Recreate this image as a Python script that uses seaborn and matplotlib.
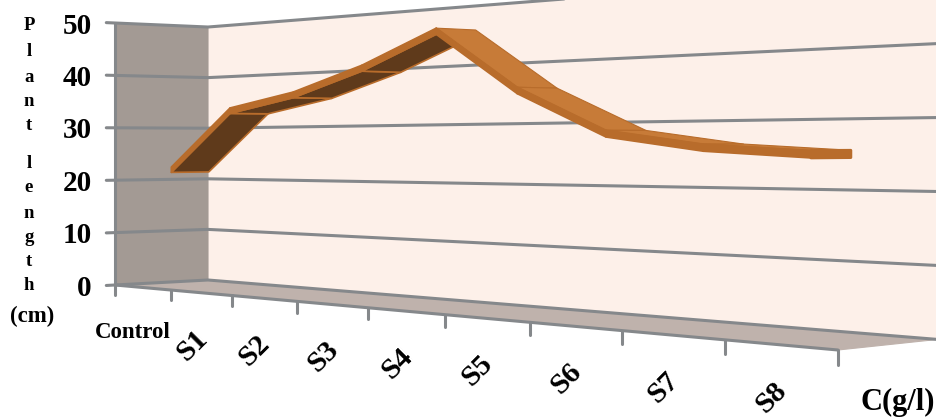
import numpy as np
import pandas as pd
import matplotlib
matplotlib.use("Agg")
import matplotlib.pyplot as plt
import seaborn as sns

categories = ["Control", "S1", "S2", "S3", "S4", "S5", "S6", "S7", "S8"]
plant_length = [22.5, 33.4, 35.9, 40.0, 45.4, 35.4, 28.6, 26.5, 25.6]
y_ticks = [0, 10, 20, 30, 40, 50]
y_letters = ["P", "l", "a", "n", "t", "l", "e", "n", "g", "t", "h"]
letter_rows = [24, 49, 75, 100, 124, 161, 186, 211, 236, 259, 283]

wall_color = "#FDF0E9"
side_color = "#A39A94"
floor_color = "#BFB2AC"
grid_color = "#85888B"
top_color = "#C77B38"
band_color = "#B86C2B"
under_color = "#5F3A1B"

sns.set_theme(style="white")
plt.rcParams["font.family"] = ["Liberation Serif", "DejaVu Serif"]


# perspective of the excel 3d chart: u = category axis, v = value, d = depth (0 front, 1 back)
def project(u, v, d):
    u, v, d = np.asarray(u, float), np.asarray(v, float), np.asarray(d, float)
    w = 1 - 0.03635 * u + 0.0356 * d
    px = (115 + 49.87 * u + 100.4 * d) / w
    py = (285 - 5.5 * u + 4.97 * d - 5.24 * v) / w
    return px, py


def face(ax, u, v, d, color, edge=None, lw=0.8, zorder=3):
    px, py = project(u, v, d)
    ax.fill(px, py, facecolor=color, edgecolor=edge if edge else color, lw=lw, zorder=zorder,
            joinstyle="round")


def line_frame(rows):
    frame = []
    for key, (u, v, d) in enumerate(rows):
        px, py = project(u, v, d)
        frame.append(pd.DataFrame({"key": key, "px": px, "py": py}))
    return pd.concat(frame, ignore_index=True)


fig = plt.figure(figsize=(9.36, 4.18), dpi=100)
ax = fig.add_axes([0, 0, 1, 1])

n = len(categories)
top = y_ticks[-1]

# walls and floor
face(ax, [0, n, n, 0], [0, 0, top, top], [1, 1, 1, 1], wall_color, zorder=1)
face(ax, [0, 0, 0, 0], [0, 0, top, top], [0, 1, 1, 0], side_color, zorder=1)
face(ax, [0, n, n, 0], [0, 0, 0, 0], [0, 0, 1, 1], floor_color, zorder=1)

# gridlines, they run along the side wall and then the back wall
grid_rows = [([0, 0, n], [t, t, t], [-0.09, 1, 1]) for t in y_ticks]
grid_df = line_frame(grid_rows)
sns.lineplot(data=grid_df, x="px", y="py", units="key", estimator=None, sort=False,
             color=grid_color, lw=2.2, ax=ax, zorder=2, legend=False)

# axis lines and tick marks
edge_rows = [([0, n], [0, 0], [0, 0]), ([0, 0], [0, top], [0, 0])]
edge_rows += [([i, i], [0, -1.9], [0, 0]) for i in range(n + 1)]
edge_df = line_frame(edge_rows)
sns.lineplot(data=edge_df, x="px", y="py", units="key", estimator=None, sort=False,
             color=grid_color, lw=2.2, ax=ax, zorder=2, legend=False)

# ribbon
d0, d1 = 0.3, 0.7
thick = 1.0
for i in range(n - 1):
    u0, u1 = i + 0.5, i + 1.5
    v0, v1 = plant_length[i], plant_length[i + 1]
    if v1 > v0:
        face(ax, [u0, u0, u1, u1], [v0 - thick, v0 - thick, v1 - thick, v1 - thick],
             [d0, d1, d1, d0], under_color, band_color, 1.2)
    else:
        face(ax, [u0, u0, u1, u1], [v0, v0, v1, v1], [d0, d1, d1, d0], top_color, band_color, 0.8)
    face(ax, [u0, u1, u1, u0], [v0, v1, v1 - thick, v0 - thick], [d0, d0, d0, d0], band_color, lw=1.2)

# end of the ribbon, seen from the right
u_end = n - 0.5
v_end = plant_length[-1]
face(ax, [u_end] * 4, [v_end, v_end, v_end - thick, v_end - thick], [d0, d1, d1, d0], band_color, lw=2.0)

# text
for t in y_ticks:
    px, py = project(0, t, 0)
    ax.text(92, py + 3, str(t), ha="right", va="center", fontsize=21, fontweight="bold", color="black")

for letter, row in zip(y_letters, letter_rows):
    ax.text(29, row + 2, letter, ha="center", va="center", fontsize=13.5, fontweight="bold", color="black")
ax.text(32, 316, "(cm)", ha="center", va="center", fontsize=16.5, fontweight="bold", color="black")

ax.text(133, 333, categories[0], ha="center", va="center", fontsize=16.5, fontweight="bold", color="black")
for i, name in enumerate(categories[1:], start=1):
    px, py = project(i + 0.5, 0, 0)
    ax.text(px - 9, py + 52.5, name, ha="center", va="center", rotation=45,
            fontsize=21.5, fontweight="bold", color="black")
ax.text(898, 402, "C(g/l)", ha="center", va="center", fontsize=22, fontweight="bold", color="black")

ax.set_xlim(0, 936)
ax.set_ylim(418, 0)
ax.set_axis_off()

fig.savefig("out.png", dpi=100)
